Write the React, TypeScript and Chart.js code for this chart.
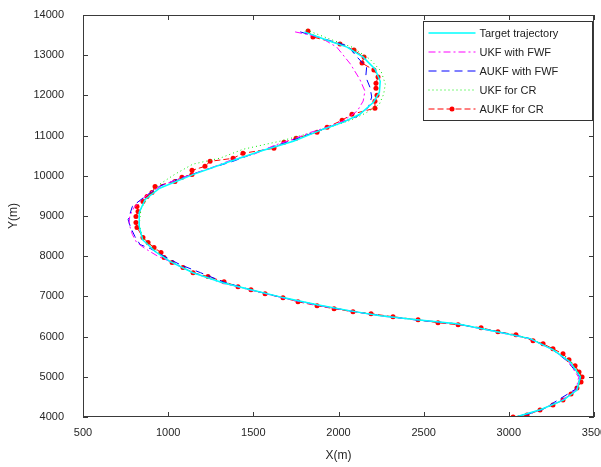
import React, { useEffect, useRef } from "react";
import { Chart, registerables } from "chart.js";
Chart.register(...registerables);

const FONT = "'Liberation Sans', Arial, Helvetica, sans-serif";

const seriesLabels = ["Target trajectory", "UKF with FWF", "AUKF with FWF", "UKF for CR", "AUKF for CR"];
const seriesColors = ["#00ffff", "#ff00ff", "#0000ff", "#00ee00", "#ff0000"];
const xTicks = [500, 1000, 1500, 2000, 2500, 3000, 3500];
const yTicks = [4000, 5000, 6000, 7000, 8000, 9000, 10000, 11000, 12000, 13000, 14000];

const targetX = [1800,1930,2050,2145,2215,2245,2240,2205,2125,2025,1910,1735,1540,1345,1145,950,865,830,830,850,925,1010,1145,1320,1480,1675,1875,2070,2245,2460,2695,2930,3125,3260,3360,3420,3400,3320,3185,3040];
const targetY = [13580,13380,13200,12950,12650,12350,12080,11830,11530,11330,11160,10860,10610,10330,10030,9690,9410,9090,8740,8410,8110,7870,7590,7340,7170,6970,6790,6640,6520,6420,6320,6120,5950,5670,5370,5000,4670,4420,4180,4000];

const ukfFwfX = [1745,1890,1990,2070,2125,2155,2145,2110,2025,1935,1835,1735,1625,1500,1380,1275,1175,1070,980,895,845,800,775,770,790,815,865,935,1025,1145,1320,1480,1675,1870,2070,2250,2460,2700,2935,3120,3255,3350,3385,3410,3395,3310,3180,3040];
const ukfFwfY = [13580,13450,13200,12780,12400,12110,11860,11610,11360,11210,11080,10910,10760,10530,10410,10235,10085,9935,9790,9590,9410,9210,9010,8810,8540,8340,8190,8010,7840,7590,7330,7160,6960,6780,6640,6510,6420,6310,6110,5950,5680,5390,5150,4990,4680,4420,4170,4000];

const aukfFwfX = [1775,1920,2055,2110,2165,2160,2185,2195,2175,2110,2010,1890,1745,1570,1380,1190,1040,950,865,790,765,780,805,835,895,980,1070,1190,1330,1490,1680,1880,2075,2250,2460,2690,2925,3110,3250,3340,3380,3420,3395,3280,3200,3060];
const aukfFwfY = [13580,13400,13230,12950,12700,12460,12200,11960,11700,11480,11310,11130,10910,10660,10360,10110,9890,9740,9490,9240,8910,8710,8490,8290,8190,7990,7790,7590,7350,7160,6960,6780,6630,6520,6410,6320,6130,5970,5700,5400,5200,4980,4700,4400,4190,4000];

const ukfCrX = [1810,1950,2080,2185,2250,2275,2265,2240,2160,2070,1950,1805,1655,1440,1305,1145,1040,950,880,840,830,850,925,1010,1145,1320,1480,1675,1875,2070,2245,2460,2695,2930,3125,3260,3365,3425,3405,3320,3185,3040];
const ukfCrY = [13630,13400,13200,12900,12600,12280,12030,11780,11560,11380,11210,11030,10860,10660,10440,10290,10040,9790,9490,9160,8790,8460,8160,7870,7590,7340,7170,6970,6790,6640,6520,6420,6320,6125,5955,5680,5380,5010,4680,4420,4180,4000];

const aukfCrX = [1821,1850,2009,2091,2150,2138,2208,2232,2220,2220,2226,2214,2214,2079,2021,1933,1874,1751,1680,1621,1439,1381,1246,1216,1140,1140,1081,1040,923,905,876,852,817,823,811,811,817,852,882,917,958,976,1023,1087,1146,1234,1328,1410,1486,1569,1674,1762,1874,1974,2085,2191,2320,2467,2584,2702,2837,2936,3042,3142,3201,3259,3318,3353,3389,3412,3430,3424,3400,3365,3318,3259,3183,3107,3025];
const aukfCrY = [13602,13452,13278,13128,12953,12804,12629,12455,12305,12180,12006,11856,11682,11532,11382,11208,11083,10933,10834,10684,10559,10435,10360,10235,10135,10035,9961,9861,9736,9587,9487,9362,9237,9113,8988,8838,8714,8464,8340,8215,8090,7965,7841,7716,7591,7492,7367,7242,7167,7068,6968,6868,6768,6694,6619,6569,6494,6419,6344,6294,6220,6120,6045,5895,5821,5696,5571,5422,5272,5122,4998,4873,4723,4574,4424,4299,4175,4050,4000];

const toPts = (xs: number[], ys: number[]) => xs.map((x, i) => ({ x, y: ys[i] }));

const framePlugin = {
  id: "frame",
  afterDatasetsDraw(chart: any) {
    const { ctx, chartArea, scales } = chart;
    const { left, right, top, bottom } = chartArea;
    ctx.save();
    ctx.strokeStyle = "#3a3a3a";
    ctx.lineWidth = 1;
    ctx.setLineDash([]);
    ctx.strokeRect(Math.round(left) + 0.5, Math.round(top) + 0.5, Math.round(right - left) - 1, Math.round(bottom - top) - 1);
    const tl = 5;
    ctx.beginPath();
    scales.x.ticks.forEach((t: any) => {
      const px = Math.round(scales.x.getPixelForValue(t.value)) + 0.5;
      ctx.moveTo(px, bottom); ctx.lineTo(px, bottom - tl);
      ctx.moveTo(px, top); ctx.lineTo(px, top + tl);
    });
    scales.y.ticks.forEach((t: any) => {
      const py = Math.round(scales.y.getPixelForValue(t.value)) + 0.5;
      ctx.moveTo(left, py); ctx.lineTo(left + tl, py);
      ctx.moveTo(right, py); ctx.lineTo(right - tl, py);
    });
    ctx.stroke();
    ctx.restore();
  },
};

const legendPlugin = {
  id: "boxLegend",
  afterDraw(chart: any) {
    const { ctx, chartArea } = chart;
    const x1 = Math.round(chartArea.right) - 1.5;
    const x0 = x1 - 169;
    const y0 = Math.round(chartArea.top) + 6.5;
    const rowH = 19;
    const n = chart.data.datasets.length;
    const y1 = y0 + n * rowH + 4;
    ctx.save();
    ctx.setLineDash([]);
    ctx.fillStyle = "#ffffff";
    ctx.fillRect(x0, y0, x1 - x0, y1 - y0);
    ctx.strokeStyle = "#333333";
    ctx.lineWidth = 1;
    ctx.strokeRect(x0, y0, x1 - x0, y1 - y0);
    chart.data.datasets.forEach((ds: any, i: number) => {
      const y = Math.round(y0 + 11 + i * rowH);
      ctx.save();
      ctx.strokeStyle = seriesColors[i];
      ctx.lineWidth = ds.borderWidth;
      ctx.lineDashOffset = 0;
      ctx.setLineDash(ds.borderDash || []);
      ctx.beginPath();
      ctx.moveTo(x0 + 5, y);
      ctx.lineTo(x0 + 52, y);
      ctx.stroke();
      if (ds.pointRadius > 0) {
        ctx.setLineDash([]);
        ctx.fillStyle = seriesColors[i];
        ctx.beginPath();
        ctx.arc(x0 + 28.5, y, ds.pointRadius, 0, Math.PI * 2);
        ctx.fill();
      }
      ctx.restore();
      ctx.fillStyle = "#222222";
      ctx.font = `11px ${FONT}`;
      ctx.textBaseline = "middle";
      ctx.textAlign = "left";
      ctx.fillText(ds.label, x0 + 56, y + 0.5);
    });
    ctx.restore();
  },
};

export default function App() {
  const ref = useRef<HTMLCanvasElement | null>(null);
  useEffect(() => {
    if (!ref.current) return;
    const mk = (i: number, xs: number[], ys: number[], width: number, dash: number[], radius = 0) => ({
      label: seriesLabels[i],
      data: toPts(xs, ys),
      showLine: true,
      borderColor: seriesColors[i],
      backgroundColor: seriesColors[i],
      borderWidth: width,
      borderDash: dash,
      pointRadius: radius,
      pointBackgroundColor: seriesColors[i],
      pointBorderWidth: 0,
      pointHoverRadius: radius,
      fill: false,
      tension: 0,
    });
    const chart = new Chart(ref.current, {
      type: "scatter",
      data: {
        datasets: [
          mk(0, targetX, targetY, 1.5, []),
          mk(1, ukfFwfX, ukfFwfY, 1, [7, 3, 2, 3]),
          mk(2, aukfFwfX, aukfFwfY, 1, [8, 5]),
          mk(3, ukfCrX, ukfCrY, 1, [1, 3]),
          mk(4, aukfCrX, aukfCrY, 1, [6, 3], 2.5),
        ] as any,
      },
      options: {
        animation: false,
        responsive: false,
        devicePixelRatio: 1,
        layout: { padding: { top: 15, right: 7, left: 0, bottom: 0 } },
        plugins: { legend: { display: false }, tooltip: { enabled: false } },
        scales: {
          x: {
            type: "linear",
            min: 500,
            max: 3500,
            afterBuildTicks: (s: any) => { s.ticks = xTicks.map((v) => ({ value: v })); },
            afterFit: (s: any) => { s.height = 50; s.paddingLeft = 0; s.paddingRight = 0; },
            grid: { display: false, drawTicks: false },
            border: { display: false },
            ticks: { color: "#262626", padding: 9, font: { family: FONT, size: 11 }, maxRotation: 0, autoSkip: false, callback: (v: any) => String(v) },
            title: { display: true, text: "X(m)", color: "#262626", font: { family: FONT, size: 12 }, padding: { top: 0, bottom: 4 } },
          },
          y: {
            type: "linear",
            min: 4000,
            max: 14000,
            afterBuildTicks: (s: any) => { s.ticks = yTicks.map((v) => ({ value: v })); },
            afterFit: (s: any) => { s.width = 83; s.paddingTop = 0; s.paddingBottom = 0; },
            grid: { display: false, drawTicks: false },
            border: { display: false },
            ticks: { color: "#262626", padding: 19, font: { family: FONT, size: 11 }, autoSkip: false, callback: (v: any) => String(v) },
            title: { display: true, text: "Y(m)", color: "#262626", font: { family: FONT, size: 12 }, padding: { top: 6, bottom: 0 } },
          },
        },
      } as any,
      plugins: [framePlugin, legendPlugin],
    });
    return () => chart.destroy();
  }, []);
  return (
    <div style={{ position: "fixed", left: 0, top: 0, width: 601, height: 467, background: "#fff" }}>
      <canvas ref={ref} width={601} height={467} style={{ width: 601, height: 467, display: "block" }} />
    </div>
  );
}
